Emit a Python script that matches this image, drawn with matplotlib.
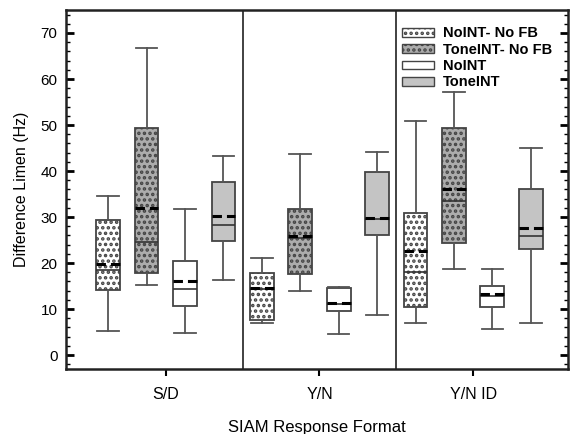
import numpy as np
import matplotlib.pyplot as plt
from matplotlib.patches import Patch

plt.rcParams['font.family'] = ['Liberation Sans', 'DejaVu Sans']
plt.rcParams['lines.scale_dashes'] = False
plt.rcParams['hatch.linewidth'] = 1.7

# values (Hz)
formats = ['S/D', 'Y/N', 'Y/N ID']
conditions = ['NoINT- No FB', 'ToneINT- No FB', 'NoINT', 'ToneINT']

# per condition, one value per format
whis_lo = [[5.2, 7.0, 6.9], [15.2, 13.9, 18.8], [4.9, 4.6, 5.7], [16.3, 8.8, 6.9]]
q1 = [[14.1, 7.6, 10.5], [17.9, 17.7, 24.3], [10.7, 9.6, 10.4], [24.8, 26.2, 23.1]]
median = [[18.6, 14.3, 18.0], [24.5, 25.5, 33.5], [14.3, 11.1, 12.8], [28.2, 29.6, 25.9]]
mean = [[19.7, 14.6, 22.6], [31.9, 25.8, 36.0], [16.2, 11.3, 13.2], [30.3, 29.8, 27.7]]
q3 = [[29.3, 17.8, 30.8], [49.3, 31.7, 49.3], [20.4, 14.5, 15.1], [37.7, 39.8, 36.2]]
whis_hi = [[34.6, 21.1, 50.9], [66.7, 43.7, 57.1], [31.8, 14.9, 18.8], [43.3, 44.2, 45.1]]

faces = ['white', '#acacac', 'white', '#c4c4c4']
hatches = ['...', '...', None, None]
offsets = [-0.375, -0.125, 0.125, 0.375]

fig = plt.figure(figsize=(5.73, 4.34), dpi=100)
ax = fig.add_axes([0.115, 0.150, 0.877, 0.827])

for c in range(4):
    stats = []
    for g in range(3):
        stats.append(dict(whislo=whis_lo[c][g], q1=q1[c][g], med=median[c][g],
                          mean=mean[c][g], q3=q3[c][g], whishi=whis_hi[c][g], fliers=[]))
    pos = np.arange(1, 4) + offsets[c]
    bp = ax.bxp(stats, positions=pos, widths=0.155, capwidths=0.14,
                patch_artist=True, showmeans=True, meanline=True, showfliers=False,
                boxprops=dict(edgecolor='#444444', linewidth=1.3),
                whiskerprops=dict(color='#555555', linewidth=1.3),
                capprops=dict(color='#555555', linewidth=1.3),
                medianprops=dict(color='#333333', linewidth=1.2),
                meanprops=dict(color='black', linewidth=2.2, linestyle=(0, (6.8, 3.6))))
    for b in bp['boxes']:
        b.set_facecolor(faces[c])
        if hatches[c]:
            b.set_hatch(hatches[c])

for xs in [1.5, 2.5]:
    ax.axvline(xs, color='#333333', linewidth=1.3)

ax.set_xlim(0.35, 3.62)
ax.set_ylim(-3, 75)
ax.set_xticks([1, 2, 3])
ax.set_xticklabels(formats, fontsize=11.5)
ax.set_yticks(np.arange(0, 71, 10))
ax.set_yticks(np.arange(-2, 75, 2), minor=True)
ax.tick_params(axis='y', which='major', direction='in', length=6, width=2, labelsize=11,
               right=True, pad=6)
ax.tick_params(axis='y', which='minor', direction='in', length=3, width=1, right=True)
ax.tick_params(axis='x', which='major', direction='out', length=5, width=1.5, pad=8)
ax.tick_params(axis='x', which='minor', bottom=False)
for s in ax.spines.values():
    s.set_linewidth(1.8)
    s.set_color('#222222')

ax.set_xlabel('SIAM Response Format', fontsize=12, labelpad=13)
ax.set_ylabel('Difference Limen (Hz)', fontsize=11.5, labelpad=8)

handles = [Patch(facecolor=faces[i], edgecolor='#444444', hatch=hatches[i], linewidth=1.0)
           for i in range(4)]
ax.legend(handles, conditions, loc='upper left', bbox_to_anchor=(0.669, 0.954), frameon=False,
          prop=dict(weight='bold', size=10.5), handlelength=2.2, handleheight=0.55,
          labelspacing=0.16, handletextpad=0.6, borderaxespad=0, borderpad=0)

plt.savefig('out.png', dpi=100)
